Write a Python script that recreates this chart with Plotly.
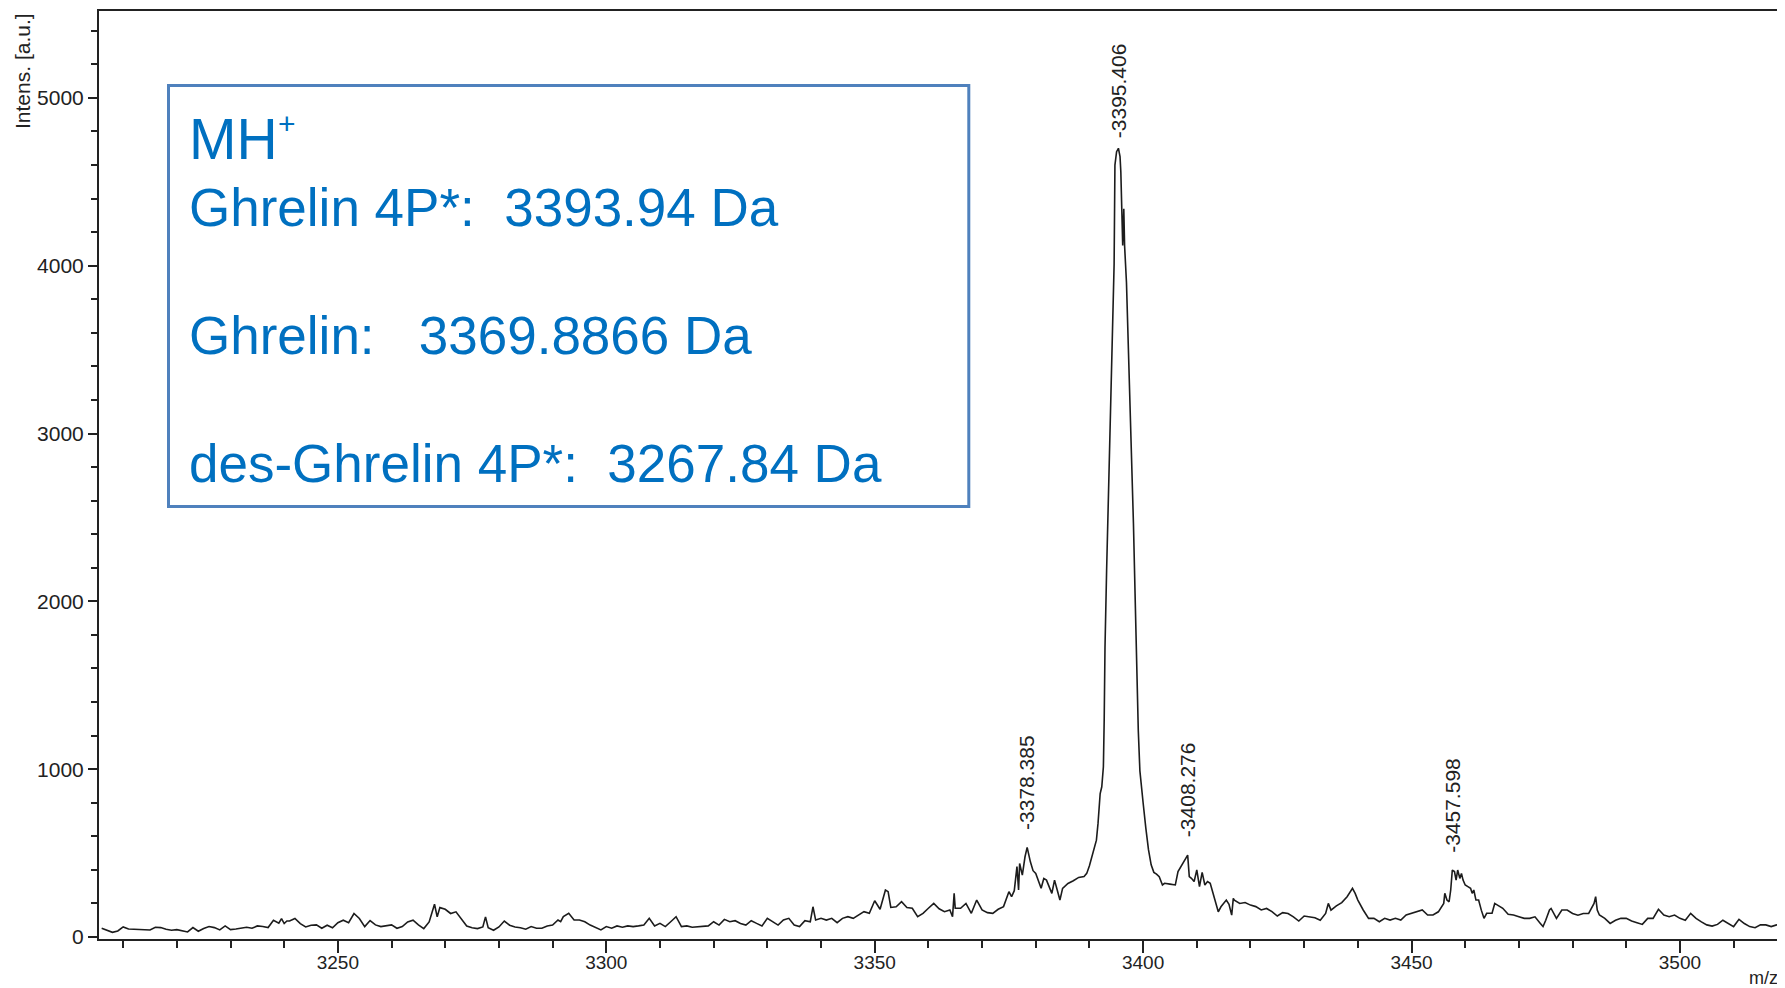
import plotly.graph_objects as go

# ---- spectrum data (m/z, intensity in a.u.) ----
mz = [3206, 3207, 3208, 3209, 3210, 3211, 3212, 3213, 3214, 3215, 3216, 3217, 3218, 3219, 3220,
      3221, 3222, 3223, 3224, 3225, 3226, 3227, 3228, 3229, 3230, 3231, 3232, 3233, 3234, 3235,
      3236, 3237, 3238, 3238.5, 3239, 3239.5, 3240, 3240.5, 3241, 3242, 3243, 3244, 3245, 3246,
      3247, 3248, 3249, 3250, 3251, 3252, 3253, 3254, 3255, 3256, 3257, 3258, 3259, 3260, 3261,
      3262, 3263, 3264, 3265, 3266, 3267, 3268, 3268.5, 3269, 3270, 3271, 3272, 3273, 3274, 3275,
      3276, 3277, 3277.5, 3278, 3279, 3280, 3281, 3282, 3283, 3284, 3285, 3286, 3287, 3288, 3289,
      3290, 3291, 3291.5, 3292, 3293, 3293.5, 3294, 3295, 3296, 3297, 3298, 3299, 3300, 3301, 3302,
      3303, 3304, 3305, 3306, 3307, 3308, 3309, 3310, 3311, 3312, 3313, 3314, 3315, 3316, 3317,
      3318, 3319, 3320, 3321, 3322, 3323, 3324, 3325, 3326, 3327, 3328, 3329, 3330, 3331, 3332,
      3333, 3334, 3335, 3336, 3337, 3338, 3338.5, 3339, 3340, 3341, 3342, 3343, 3344, 3345, 3346,
      3347, 3348, 3349, 3350, 3351, 3352, 3352.5, 3353, 3354, 3355, 3356, 3357, 3358, 3359, 3360,
      3361, 3362, 3363, 3364, 3364.5, 3364.8, 3365, 3366, 3367, 3368, 3369, 3370, 3371, 3372, 3373,
      3374, 3375, 3375.5, 3376, 3376.5, 3376.8, 3377, 3377.5, 3378, 3378.4, 3379, 3379.5, 3380,
      3381, 3381.5, 3382, 3383, 3383.5, 3384, 3384.5, 3385, 3386, 3387, 3388, 3389, 3389.5, 3390,
      3390.5, 3391, 3391.3, 3391.6, 3392, 3392.3, 3392.6, 3392.75, 3392.9, 3393.2, 3393.5, 3393.8,
      3394.1, 3394.4, 3394.6, 3394.75, 3395.06, 3395.4, 3395.7, 3395.85, 3396.0, 3396.2, 3396.4,
      3396.55, 3396.9, 3397.2, 3397.5, 3397.85, 3398.2, 3398.5, 3398.8, 3399.1, 3399.4, 3399.7,
      3400.0, 3400.5, 3401.0, 3401.5, 3402.0, 3402.5, 3403, 3403.6, 3404, 3405, 3406, 3406.5, 3407,
      3407.5, 3408, 3408.3, 3408.6, 3409, 3409.5, 3410, 3410.5, 3411, 3411.5, 3412, 3412.5, 3413,
      3413.5, 3414, 3414.5, 3415, 3415.5, 3416, 3416.5, 3416.8, 3417, 3418, 3419, 3420, 3421, 3422,
      3423, 3424, 3425, 3426, 3427, 3428, 3429, 3430, 3431, 3432, 3433, 3434, 3434.5, 3435, 3436,
      3437, 3438, 3439, 3439.5, 3440, 3441, 3442, 3443, 3444, 3445, 3446, 3447, 3448, 3449, 3450,
      3451, 3452, 3453, 3454, 3455, 3456, 3456.2, 3456.6, 3457, 3457.3, 3457.6, 3458, 3458.3,
      3458.6, 3459, 3459.3, 3459.6, 3460, 3460.5, 3461, 3461.3, 3461.6, 3462, 3462.5, 3463, 3463.5,
      3464, 3465, 3465.5, 3466, 3467, 3468, 3469, 3470, 3471, 3472, 3473, 3474, 3474.5, 3475,
      3475.7, 3476, 3477, 3478, 3479, 3480, 3481, 3482, 3483, 3484, 3484.3, 3484.6, 3485, 3486,
      3487, 3488, 3489, 3490, 3491, 3492, 3493, 3494, 3495, 3496, 3497, 3498, 3499, 3500, 3501,
      3502, 3503, 3504, 3505, 3506, 3507, 3508, 3509, 3510, 3511, 3512, 3513, 3514, 3515, 3516,
      3517, 3518, 3519]

intens = [52, 40, 28, 36, 60, 48, 46, 44, 46, 42, 58, 56, 46, 40, 44,
          36, 30, 56, 34, 50, 62, 56, 42, 66, 44, 48, 52, 58, 52, 66,
          62, 56, 100, 90, 82, 110, 80, 95, 95, 110, 80, 60, 70, 72,
          52, 70, 55, 85, 100, 85, 140, 110, 62, 98, 72, 62, 68, 72, 52,
          62, 90, 100, 72, 50, 90, 195, 120, 175, 165, 140, 150, 110, 65, 55,
          50, 60, 120, 55, 40, 60, 95, 70, 60, 55, 46, 62, 52, 52, 66,
          71, 101, 91, 121, 141, 121, 101, 101, 91, 71, 58, 42, 62, 52, 66,
          58, 66, 62, 66, 71, 111, 66, 81, 62, 91, 121, 62, 66, 58, 62,
          62, 66, 91, 71, 105, 91, 97, 81, 71, 97, 81, 66, 111, 91, 71,
          101, 111, 71, 62, 97, 91, 180, 101, 111, 101, 111, 85, 111, 121, 111,
          131, 151, 141, 216, 165, 280, 270, 176, 180, 210, 176, 171, 121, 141, 171,
          200, 168, 151, 161, 121, 260, 171, 171, 200, 141, 220, 161, 145, 141, 165,
          181, 270, 240, 276, 419, 280, 438, 369, 478, 534, 448, 395, 379,
          290, 349, 339, 260, 339, 280, 220, 290, 319, 335, 355, 360, 379, 425,
          480, 530, 577, 677, 855, 895, 1014, 1292, 1728, 2184, 2581, 3018,
          3355, 3752, 4010, 4600, 4680, 4700, 4650, 4560, 4300, 4120, 4340,
          4120, 3900, 3593, 3216, 2799, 2462, 2046, 1629, 1232, 990, 880,
          800, 650, 520, 430, 385, 375, 359, 310, 320, 315, 310, 390, 419,
          440, 470, 488, 360, 350, 330, 400, 300, 385, 310, 330, 320, 262,
          220, 150, 180, 200, 220, 195, 130, 230, 220, 200, 205, 190, 181, 161,
          170, 151, 125, 145, 140, 120, 95, 125, 120, 115, 100, 140, 200, 160, 185,
          205, 240, 290, 260, 220, 161, 111, 111, 91, 111, 101, 111, 101, 131, 141,
          151, 161, 131, 131, 150, 200, 260, 220, 210, 280, 399, 390, 339,
          399, 349, 379, 339, 310, 300, 290, 260, 280, 220, 220, 160, 111,
          141, 141, 200, 190, 171, 135, 131, 121, 111, 111, 120, 81, 62, 100,
          161, 170, 111, 161, 161, 140, 130, 140, 140, 200, 240, 160, 131, 111,
          81, 100, 111, 111, 95, 85, 75, 111, 111, 165, 131, 121, 131, 111, 100,
          141, 111, 90, 72, 65, 75, 100, 80, 62, 105, 80, 62, 55, 72, 72,
          62, 72, 68]

# ---- annotated peaks ----
peak_mz = [3378.385, 3395.406, 3408.276, 3457.598]
peak_labels = ["3378.385", "3395.406", "3408.276", "3457.598"]
peak_int = [534, 4700, 488, 399]
peak_shift = [15, 8, 16, 15]

# ---- info box text ----
box_title = "MH"
box_lines = ["Ghrelin 4P*:  3393.94 Da",
             "Ghrelin:   3369.8866 Da",
             "des-Ghrelin 4P*:  3267.84 Da"]

# ---- axes ----
x_range = [3205.5, 3519.2]
y_range = [-12, 5518]

FONT = "Liberation Sans, Arial, sans-serif"
INK = "#222222"
BLUE = "#0070c0"

# page offset of the figure div (browser body margin)
OFF = 8
W, H = 1785 - OFF, 988 - OFF
# plot-area edges in page pixels
PL, PR, PT, PB = 99, 1783, 11, 939
L, R, T, B = PL - OFF, PR - OFF, PT - OFF, PB - OFF

def px(xp):
    return (xp - PL) / (PR - PL)
def py(yp):
    return (PB - yp) / (PB - PT)

fig = go.Figure()
fig.add_trace(go.Scatter(x=mz, y=intens, mode="lines",
                         line=dict(color="#1c1c1c", width=1.6),
                         hoverinfo="skip", showlegend=False))

annotations = []
for m, lab, v, s in zip(peak_mz, peak_labels, peak_int, peak_shift):
    annotations.append(dict(x=m, y=v, xref="x", yref="y", text="-" + lab,
                            textangle=-90, showarrow=False, xanchor="center",
                            yanchor="bottom", yshift=s,
                            font=dict(family=FONT, size=21, color=INK)))

annotations.append(dict(x=px(22), y=py(11), xref="paper", yref="paper",
                        text="Intens. [a.u.]", textangle=-90, showarrow=False,
                        xanchor="center", yanchor="top",
                        font=dict(family=FONT, size=21, color=INK)))
annotations.append(dict(x=px(1763), y=py(978), xref="paper", yref="paper",
                        text="m/z", showarrow=False, xanchor="center", yanchor="middle",
                        font=dict(family=FONT, size=18, color=INK)))

annotations.append(dict(x=px(187), y=py(139), xref="paper", yref="paper",
                        text=box_title, showarrow=False, xanchor="left", yanchor="middle",
                        font=dict(family=FONT, size=57, color=BLUE)))
annotations.append(dict(x=px(276), y=py(123), xref="paper", yref="paper",
                        text="+", showarrow=False, xanchor="left", yanchor="middle",
                        font=dict(family=FONT, size=30, color=BLUE)))
for txt, yc in zip(box_lines, [207.5, 335.5, 463.5]):
    annotations.append(dict(x=px(187), y=py(yc), xref="paper", yref="paper",
                            text=txt.replace(" ", "\u00a0"), showarrow=False,
                            xanchor="left", yanchor="middle",
                            font=dict(family=FONT, size=53, color=BLUE)))

fig.add_shape(type="rect", xref="paper", yref="paper",
              x0=px(168.5), x1=px(968.8), y0=py(506.6), y1=py(85.4),
              line=dict(color="#4f81bd", width=3), fillcolor="rgba(0,0,0,0)")

fig.update_layout(
    width=W, height=H,
    margin=dict(l=L, r=W - R, t=T, b=H - B, pad=0),
    paper_bgcolor="white", plot_bgcolor="white",
    showlegend=False,
    annotations=annotations,
    xaxis=dict(range=x_range, tick0=3250, dtick=50, ticks="outside", ticklen=12,
               tickwidth=1.5, tickcolor=INK, showline=True, linewidth=2,
               linecolor=INK, mirror=True, showgrid=False, zeroline=False,
               ticklabelstandoff=-7, automargin=False,
               tickfont=dict(family=FONT, size=19, color=INK),
               minor=dict(tick0=3250, dtick=10, ticks="outside", ticklen=7,
                          tickwidth=1.5, tickcolor=INK, showgrid=False)),
    yaxis=dict(range=y_range, tick0=0, dtick=1000, ticks="outside", ticklen=9,
               tickwidth=1.5, tickcolor=INK, showline=True, linewidth=2,
               linecolor=INK, showgrid=False, zeroline=False, automargin=False,
               tickfont=dict(family=FONT, size=21, color=INK),
               minor=dict(tick0=0, dtick=200, ticks="outside", ticklen=6,
                          tickwidth=1.5, tickcolor=INK, showgrid=False)),
)

fig.write_html("out.html")
